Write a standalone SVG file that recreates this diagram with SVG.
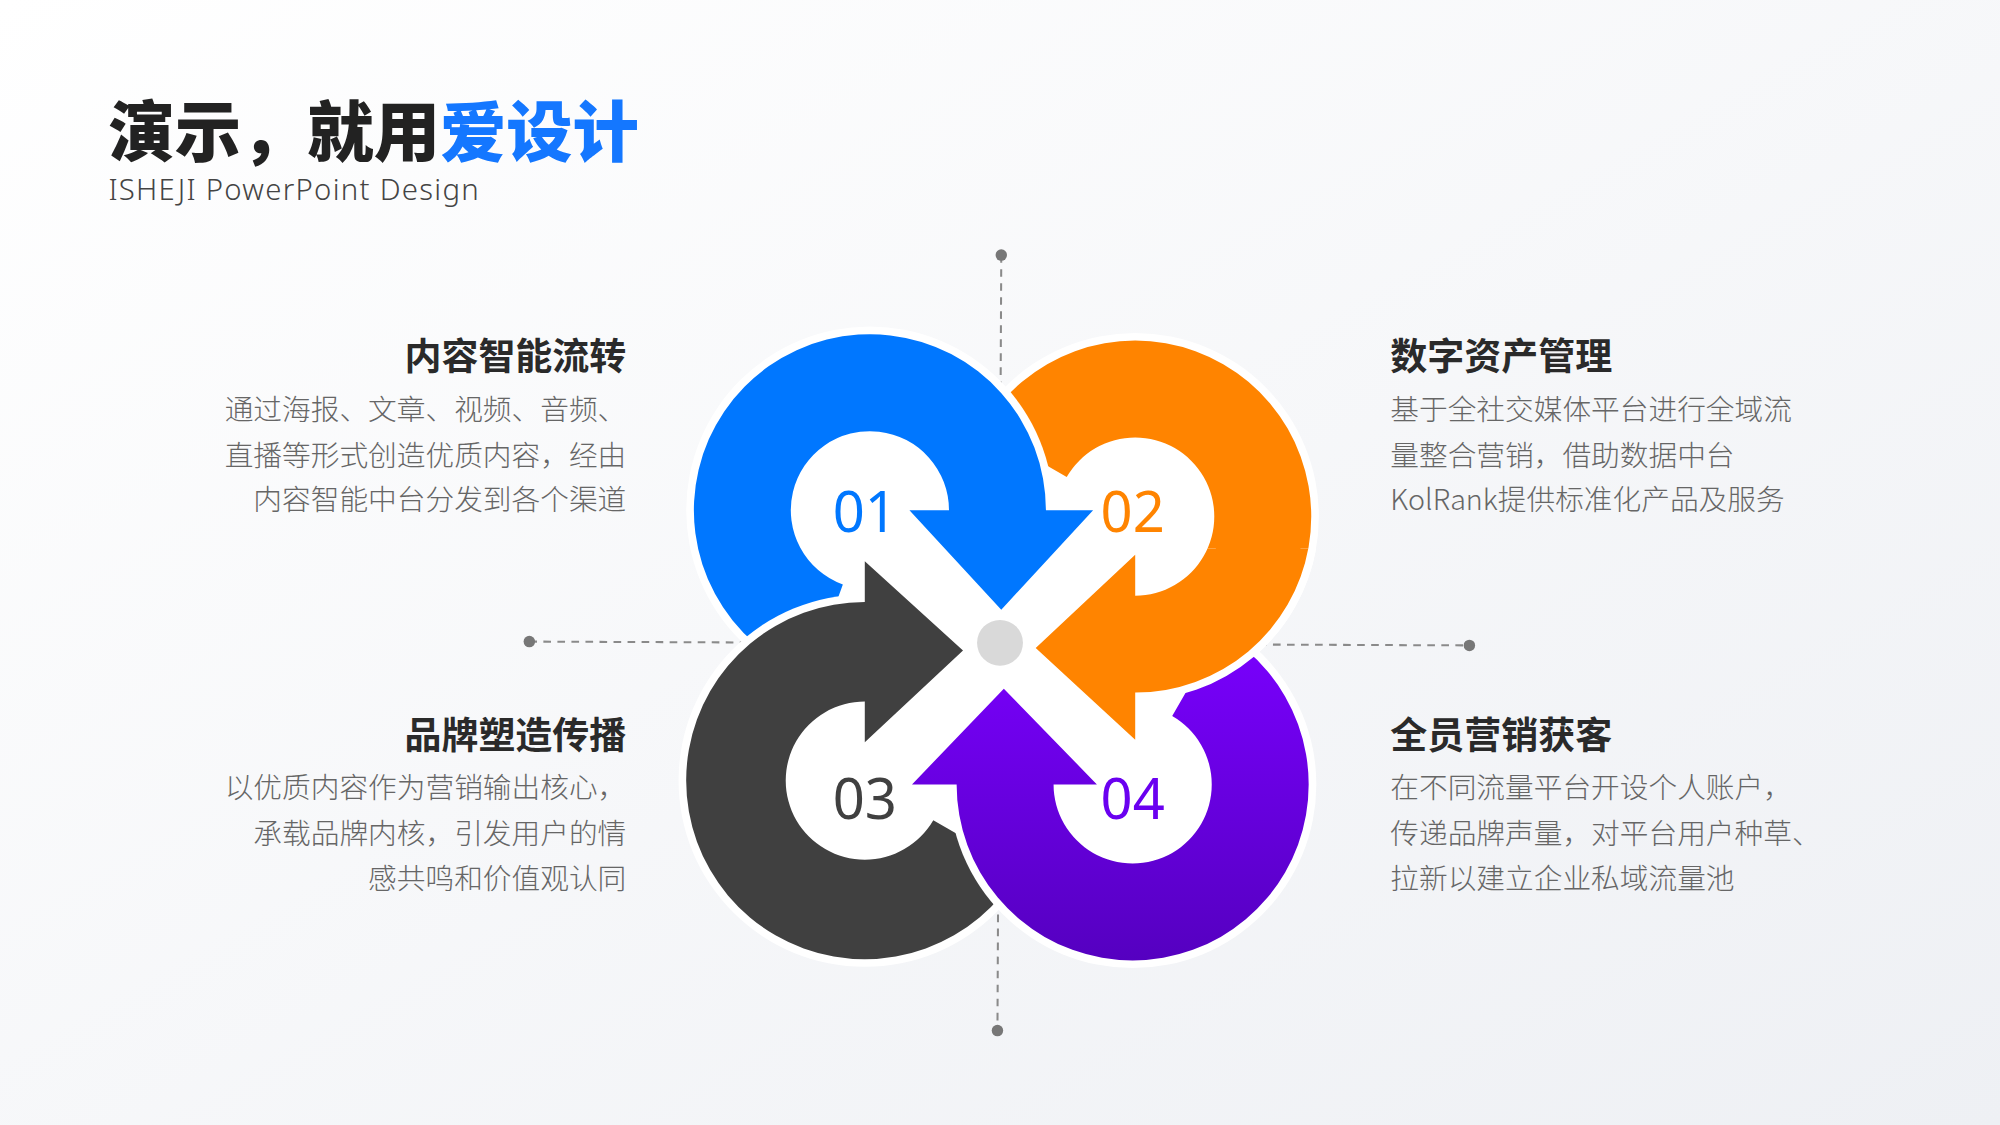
<svg xmlns="http://www.w3.org/2000/svg" width="2000" height="1125" viewBox="0 0 2000 1125">
<defs>
<linearGradient id="bg" x1="0" y1="0" x2="1" y2="1"><stop offset="0" stop-color="#ffffff"/><stop offset="1" stop-color="#eef0f4"/></linearGradient>
<linearGradient id="pg" x1="0" y1="0" x2="0" y2="1"><stop offset="0" stop-color="#7a00ff"/><stop offset="1" stop-color="#5500c0"/></linearGradient>
<clipPath id="oc"><rect x="800" y="430" width="280" height="220"/></clipPath>
<style>
.h{font-family:"Noto Sans CJK SC","Noto Sans",sans-serif;font-weight:700;font-size:29px;fill:#2a2a2a}
.b{font-family:"Noto Sans CJK SC","Noto Sans",sans-serif;font-weight:300;font-size:22.5px;fill:#666}
.n{font-family:"Noto Sans","Open Sans",sans-serif;font-size:44px;text-anchor:middle;dominant-baseline:central}
.r{text-anchor:end}
.cut{fill:#fff}
.dash{stroke:#8a8a8a;stroke-width:1.6;stroke-dasharray:6 5;fill:none}
.dot{fill:#777}
.arr{stroke-linejoin:round}
</style>
</defs>
<rect width="2000" height="1125" fill="url(#bg)"/>
<g transform="scale(1.27551)">
<g id="title">
<text x="85" y="122" style="font-family:'Noto Sans CJK SC',sans-serif;font-weight:900;font-size:52px" fill="#222">演示，就用<tspan fill="#1477ff">爱设计</tspan></text>
<text x="85" y="157" style="font-family:'Noto Sans','Open Sans',sans-serif;font-weight:300;font-size:23px;letter-spacing:1px" fill="#444">ISHEJI  PowerPoint  Design</text>
</g>
<g id="connectors">
<line class="dash" x1="785" y1="200" x2="782" y2="808"/>
<line class="dash" x1="415" y1="503" x2="1152" y2="506"/>
<circle class="dot" cx="785" cy="200" r="4.5"/>
<circle class="dot" cx="782" cy="808" r="4.5"/>
<circle class="dot" cx="415" cy="503" r="4.5"/>
<circle class="dot" cx="1152" cy="506" r="4.5"/>
</g>
<g id="node02">
<circle class="cut" cx="890" cy="405" r="144"/>
<path class="arr" fill="#ff8400" d="M770.5,336 A138,138 0 1 1 890,543 L890,580 L812,508 L890,435 L890,467 A62,62 0 1 0 836.3,374 Z"/>
</g>
<g id="node01">
<circle class="cut" cx="682" cy="400" r="144"/>
<path class="arr" fill="#0077ff" d="M634.8,529.7 A138,138 0 1 1 820,400 L857,400 L785,478 L713,400 L744,400 A62,62 0 1 0 660.8,458.3 Z"/>
</g>
<g id="node03">
<circle class="cut" cx="678" cy="612" r="146"/>
<path class="arr" fill="#404040" d="M799.2,682 A140,140 0 1 1 678,472 L678,440 L755,510 L678,582 L678,550 A62,62 0 1 0 731.7,643 Z"/>
</g>
<g id="node04">
<circle class="cut" cx="888" cy="615" r="144"/>
<path class="arr" fill="url(#pg)" d="M957,495.5 A138,138 0 1 1 750,615 L715,615 L787,540 L860,615 L826,615 A62,62 0 1 0 919,561.3 Z"/>
</g>
<g id="node02-front" clip-path="url(#oc)">
<path class="arr" fill="#ff8400" stroke="#fff" stroke-width="12" style="paint-order:stroke" d="M770.5,336 A138,138 0 1 1 890,543 L890,580 L812,508 L890,435 L890,467 A62,62 0 1 0 836.3,374 Z"/>
</g>
<circle id="center" cx="784" cy="504" r="18" fill="#d9d9d9"/>
<g id="numbers">
<text class="n" x="678" y="400" fill="#0077ff">01</text>
<text class="n" x="888" y="400" fill="#ff8400">02</text>
<text class="n" x="678" y="625" fill="#404040">03</text>
<text class="n" x="888" y="625" fill="#6a00f0">04</text>
</g>
<g id="text1">
<text class="h r" x="491" y="290">内容智能流转</text>
<text class="b r" x="491" y="329">通过海报、文章、视频、音频、</text>
<text class="b r" x="491" y="365">直播等形式创造优质内容，经由</text>
<text class="b r" x="491" y="400">内容智能中台分发到各个渠道</text>
</g>
<g id="text2">
<text class="h" x="1090" y="290">数字资产管理</text>
<text class="b" x="1090" y="329">基于全社交媒体平台进行全域流</text>
<text class="b" x="1090" y="365">量整合营销，借助数据中台</text>
<text class="b" x="1090" y="400">KolRank提供标准化产品及服务</text>
</g>
<g id="text3">
<text class="h r" x="491" y="587">品牌塑造传播</text>
<text class="b r" x="491" y="626">以优质内容作为营销输出核心，</text>
<text class="b r" x="491" y="662">承载品牌内核，引发用户的情</text>
<text class="b r" x="491" y="697">感共鸣和价值观认同</text>
</g>
<g id="text4">
<text class="h" x="1090" y="587">全员营销获客</text>
<text class="b" x="1090" y="626">在不同流量平台开设个人账户，</text>
<text class="b" x="1090" y="662">传递品牌声量，对平台用户种草、</text>
<text class="b" x="1090" y="697">拉新以建立企业私域流量池</text>
</g>
</g>
</svg>
